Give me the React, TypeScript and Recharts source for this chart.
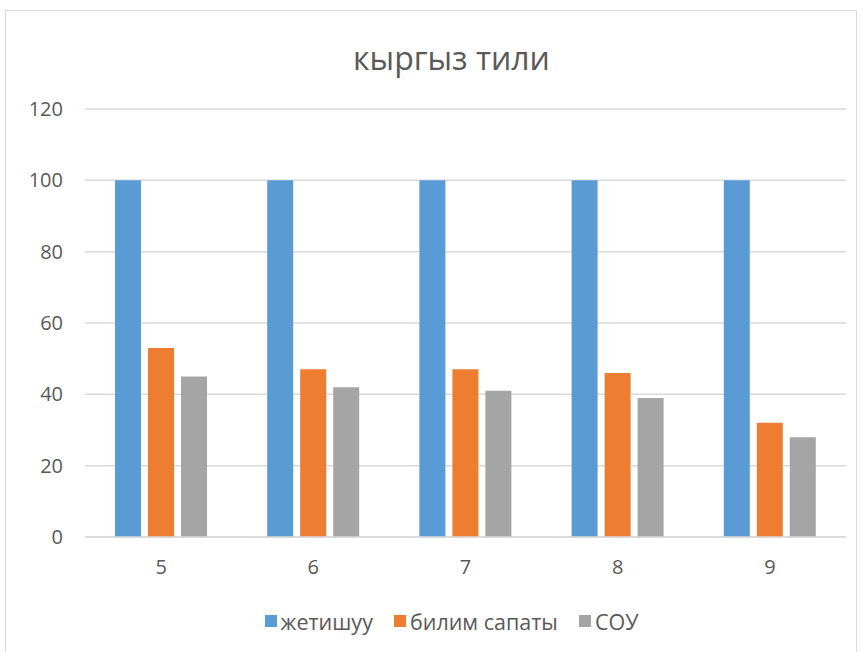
import React from "react";
import { BarChart, Bar, XAxis, YAxis, CartesianGrid, Legend } from "recharts";

const categories = ["5", "6", "7", "8", "9"];
const zhetishuu = [100, 100, 100, 100, 100];
const bilimSapaty = [53, 47, 47, 46, 32];
const sou = [45, 42, 41, 39, 28];
const yTicks = [0, 20, 40, 60, 80, 100, 120];
const seriesNames = ["жетишуу", "билим сапаты", "СОУ"];

const data = categories.map((c, i) => ({
  name: c,
  zhetishuu: zhetishuu[i],
  bilim: bilimSapaty[i],
  sou: sou[i],
}));

const FONT = "'Open Sans', 'Liberation Sans', sans-serif";
const TEXT = "#595959";

const renderLegend = (props: any) => {
  const payload = [...(props.payload || [])].sort(
    (a: any, b: any) => seriesNames.indexOf(a.value) - seriesNames.indexOf(b.value)
  );
  return (
    <div style={{ display: "flex", justifyContent: "center", alignItems: "center", fontFamily: FONT, fontSize: 21.5, color: TEXT, height: 30 }}>
      {payload.map((p: any, i: number) => (
        <div key={p.value} style={{ display: "flex", alignItems: "center", marginLeft: i === 0 ? 0 : 21 }}>
          <span style={{ display: "inline-block", width: 12, height: 12, background: p.color, marginRight: 4 }} />
          <span>{p.value}</span>
        </div>
      ))}
    </div>
  );
};

export default function App() {
  return (
    <div style={{ position: "absolute", left: 0, top: 0, width: 863, height: 652, background: "#fff", overflow: "hidden", fontFamily: FONT }}>
      <div style={{ position: "absolute", left: 5, top: 10, width: 852, height: 660, border: "1px solid #d9d9d9", boxSizing: "border-box" }} />
      <div style={{ position: "absolute", left: 0, top: 36, width: 903, textAlign: "center", fontSize: 32, color: TEXT, lineHeight: "44px" }}>
        кыргыз тили
      </div>
      <div style={{ position: "absolute", left: 0, top: 0 }}>
        <BarChart
          width={863}
          height={652}
          data={data}
          margin={{ top: 109, right: 17, left: 25, bottom: 55 }}
          barSize={26}
          barGap={7}
        >
          <CartesianGrid vertical={false} stroke="#d9d9d9" strokeWidth={1.5} />
          <XAxis
            dataKey="name"
            tickLine={false}
            axisLine={{ stroke: "#d9d9d9", strokeWidth: 1.5 }}
            tickSize={0}
            tickMargin={23}
            tick={{ fill: TEXT, fontSize: 20, fontFamily: FONT }}
          />
          <YAxis
            width={60}
            domain={[0, 120]}
            ticks={yTicks}
            tickLine={false}
            axisLine={false}
            tickSize={0}
            tickMargin={22}
            tick={{ fill: TEXT, fontSize: 20, fontFamily: FONT }}
          />
          <Legend
            content={renderLegend}
            wrapperStyle={{ top: 606, left: 0, width: 903, height: 30 }}
          />
          <Bar dataKey="zhetishuu" name="жетишуу" fill="#5b9bd5" isAnimationActive={false} />
          <Bar dataKey="bilim" name="билим сапаты" fill="#ed7d31" isAnimationActive={false} />
          <Bar dataKey="sou" name="СОУ" fill="#a5a5a5" isAnimationActive={false} />
        </BarChart>
      </div>
    </div>
  );
}
